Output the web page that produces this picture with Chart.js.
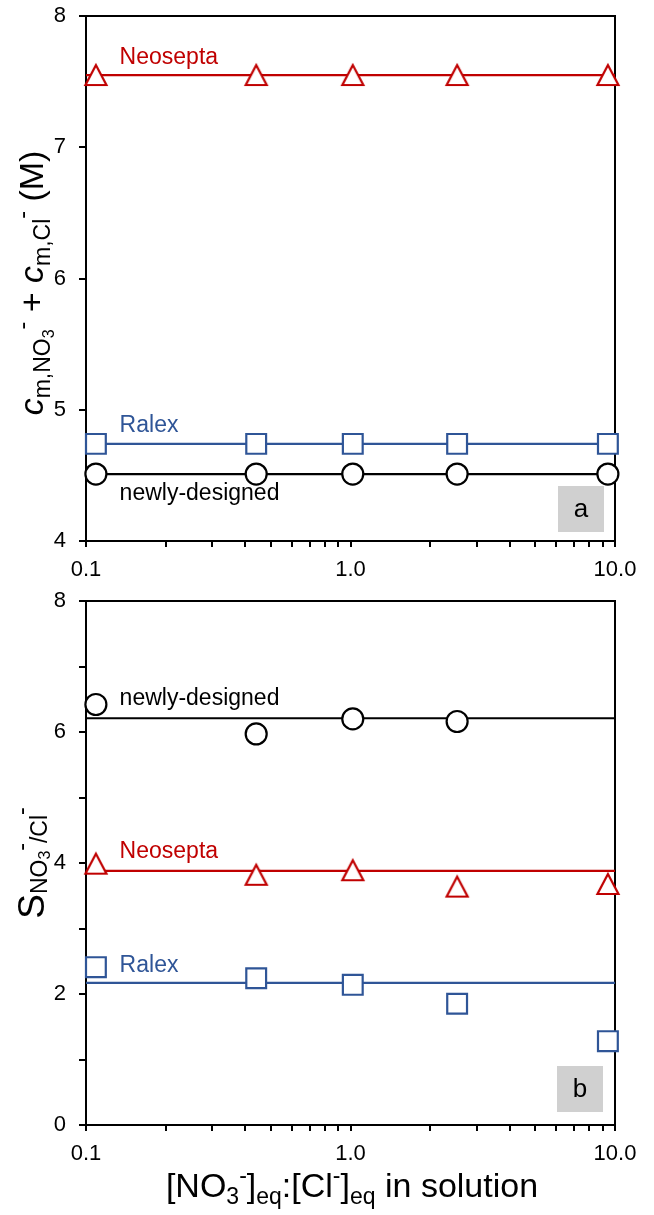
<!DOCTYPE html>
<html>
<head>
<meta charset="utf-8">
<script src="https://cdn.jsdelivr.net/npm/chart.js@4.4.1/dist/chart.umd.min.js"></script>
<style>
html,body{margin:0;padding:0;background:#fff;}
#wrap{position:relative;width:654px;height:1215px;overflow:hidden;background:#fff;}
canvas{position:absolute;left:0;}
</style>
</head>
<body>
<div id="wrap">
<canvas id="ca" width="654" height="610" style="top:-10px"></canvas>
<canvas id="cb" width="654" height="640" style="top:575px"></canvas>
</div>
<script>
// ---------- data ----------
const xRatio = [0.109, 0.44, 1.02, 2.53, 9.4];            // [NO3-]eq:[Cl-]eq in solution
const xRange = [0.1, 10];
const xTickValues = [0.1,0.2,0.3,0.4,0.5,0.6,0.7,0.8,0.9,1,2,3,4,5,6,7,8,9,10];
const xTickLabels = {'0.1':'0.1','1':'1.0','10':'10.0'};

// panel a : c_m,NO3- + c_m,Cl- (M)
const concNeosepta = [7.55, 7.55, 7.55, 7.55, 7.55];
const concRalex    = [4.74, 4.74, 4.74, 4.74, 4.74];
const concNewly    = [4.51, 4.51, 4.51, 4.51, 4.51];
const concFitNeosepta = 7.55, concFitRalex = 4.74, concFitNewly = 4.51;
const yTicksA = [4, 5, 6, 7, 8];

// panel b : selectivity S NO3-/Cl-
const selNewly    = [6.42, 5.97, 6.20, 6.16];
const selNeosepta = [3.99, 3.82, 3.89, 3.64, 3.68];
const selRalex    = [2.41, 2.24, 2.14, 1.85, 1.28];
const selFitNewly = 6.21, selFitNeosepta = 3.88, selFitRalex = 2.17;
const yTicksB = [0, 1, 2, 3, 4, 5, 6, 7, 8];
const yLabelsB = [0, 2, 4, 6, 8];

const RED = '#C00000', BLUE = '#2F5597', BLACK = '#000000';
const FAMILY = '"Liberation Sans", Arial, sans-serif';

Chart.defaults.font.family = FAMILY;
Chart.defaults.color = '#000';

// ---------- marker helpers ----------
function triangleMarker(color) {
  const c = document.createElement('canvas');
  c.width = 28; c.height = 26;
  const g = c.getContext('2d');
  g.lineWidth = 2.2; g.strokeStyle = color; g.fillStyle = '#fff'; g.lineJoin = 'miter';
  g.beginPath(); g.moveTo(14, 3); g.lineTo(3.5, 23); g.lineTo(24.5, 23); g.closePath();
  g.fill(); g.stroke();
  return c;
}
function pts(xs, ys) { return ys.map((y, i) => ({x: xs[i], y})); }
function fit(v) { return [{x: xRange[0], y: v}, {x: xRange[1], y: v}]; }
function markerSet(data, style, color, radius) {
  return {data, showLine: false, pointStyle: style, pointRadius: radius, pointHoverRadius: radius,
    pointBorderColor: color, pointBackgroundColor: '#fff', pointBorderWidth: 2.2,
    borderColor: color, backgroundColor: '#fff', clip: false, order: 1};
}
function lineSet(data, color) {
  return {data, showLine: true, pointRadius: 0, borderColor: color, borderWidth: 2.2,
    backgroundColor: color, clip: false, order: 2};
}

// ---------- rich text ----------
function drawRich(ctx, segs, x, y, rotate) {
  ctx.save();
  ctx.translate(x, y);
  if (rotate) ctx.rotate(-Math.PI / 2);
  let total = 0;
  segs.forEach(s => {
    ctx.font = (s.italic ? 'italic ' : '') + s.size + 'px ' + FAMILY;
    s.w = ctx.measureText(s.t).width;
    total += s.w + (s.dx || 0);
  });
  let cx = -total / 2;
  ctx.textAlign = 'left'; ctx.textBaseline = 'alphabetic'; ctx.fillStyle = '#000';
  segs.forEach(s => {
    ctx.font = (s.italic ? 'italic ' : '') + s.size + 'px ' + FAMILY;
    cx += (s.dx || 0);
    ctx.fillText(s.t, cx, s.dy || 0);
    cx += s.w;
  });
  ctx.restore();
}

// ---------- plugins ----------
const framePlugin = {
  id: 'frame',
  beforeDatasetsDraw(chart) {
    const {ctx, chartArea: a} = chart;
    ctx.save(); ctx.strokeStyle = '#000'; ctx.lineWidth = 2;
    ctx.strokeRect(Math.round(a.left), Math.round(a.top),
      Math.round(a.right) - Math.round(a.left), Math.round(a.bottom) - Math.round(a.top));
    ctx.restore();
  }
};
const notesPlugin = {
  id: 'notes',
  afterDatasetsDraw(chart, args, opts) {
    const {ctx, chartArea: a, scales} = chart;
    ctx.save();
    ctx.textAlign = 'left'; ctx.textBaseline = 'middle';
    ctx.font = '23px ' + FAMILY;
    (opts.labels || []).forEach(l => {
      ctx.fillStyle = l.color;
      ctx.fillText(l.text, scales.x.getPixelForValue(l.x), scales.y.getPixelForValue(l.y));
    });
    if (opts.box) {
      const b = opts.box;
      const bx = Math.round(a.right) - b.right - b.size, by = Math.round(a.bottom) - b.bottom - b.size;
      ctx.fillStyle = '#D0D0D0';
      ctx.fillRect(bx, by, b.size, b.size);
      ctx.fillStyle = '#000'; ctx.textAlign = 'center'; ctx.font = '26px ' + FAMILY;
      ctx.fillText(b.text, bx + b.size / 2, by + b.size / 2 + 1);
    }
    ctx.restore();
  },
  afterDraw(chart, args, opts) {
    (opts.titles || []).forEach(t => drawRich(chart.ctx, t.segs, t.x, t.y, t.rotate));
  }
};

const TICK_FONT = {size: 22, lineHeight: '26px'};
function xScale(height) {
  return {
    type: 'logarithmic', position: 'bottom', min: xRange[0], max: xRange[1],
    afterBuildTicks: s => { s.ticks = xTickValues.map(v => ({value: v})); },
    ticks: {autoSkip: false, maxRotation: 0, minRotation: 0, padding: 10, color: '#000',
      font: TICK_FONT, callback: v => xTickLabels[String(v)] ?? ''},
    grid: {drawOnChartArea: false, drawTicks: true, tickLength: 6, color: '#000', lineWidth: 2},
    border: {display: false},
    afterFit: s => { s.height = height; }
  };
}
function yScale(min, max, tickVals, labelVals) {
  return {
    type: 'linear', min, max,
    afterBuildTicks: s => { s.ticks = tickVals.map(v => ({value: v})); },
    ticks: {padding: 13, color: '#000', font: TICK_FONT,
      callback: v => labelVals.includes(v) ? String(v) : ''},
    grid: {drawOnChartArea: false, drawTicks: true, tickLength: 7, color: '#000', lineWidth: 2},
    border: {display: false},
    afterFit: s => { s.width = 86; }
  };
}

const common = {
  responsive: false, animation: false, events: [], devicePixelRatio: 1,
  plugins: {legend: {display: false}, tooltip: {enabled: false}}
};

// ---------- panel a ----------
new Chart(document.getElementById('ca'), {
  type: 'scatter',
  data: {datasets: [
    markerSet(pts(xRatio, concNeosepta), triangleMarker(RED), RED, 11),
    markerSet(pts(xRatio, concRalex), 'rect', BLUE, 14),
    markerSet(pts(xRatio, concNewly), 'circle', BLACK, 10.5),
    lineSet(fit(concFitNeosepta), RED),
    lineSet(fit(concFitRalex), BLUE),
    lineSet(fit(concFitNewly), BLACK)
  ]},
  options: Object.assign({}, common, {
    layout: {padding: {left: 0, top: 0, right: 39, bottom: 0}},
    scales: {x: xScale(59), y: yScale(4, 8, yTicksA, yTicksA)},
    plugins: Object.assign({}, common.plugins, {
      notes: {
        labels: [
          {text: 'Neosepta', color: RED, x: 0.134, y: 7.68},
          {text: 'Ralex', color: BLUE, x: 0.134, y: 4.88},
          {text: 'newly-designed', color: BLACK, x: 0.134, y: 4.36}
        ],
        box: {text: 'a', size: 46, right: 11, bottom: 9},
        titles: [{rotate: true, x: 43, y: 293, segs: [
          {t: 'c', size: 34, italic: true},
          {t: 'm,NO', size: 23, dy: 7},
          {t: '3', size: 16, dy: 11},
          {t: '-', size: 23, dy: -13},
          {t: ' + ', size: 34},
          {t: 'c', size: 34, italic: true},
          {t: 'm,Cl', size: 23, dy: 7},
          {t: '-', size: 23, dy: -13},
          {t: ' (M)', size: 34}
        ]}]
      }
    })
  }),
  plugins: [framePlugin, notesPlugin]
});

// ---------- panel b ----------
new Chart(document.getElementById('cb'), {
  type: 'scatter',
  data: {datasets: [
    markerSet(pts(xRatio, selNeosepta), triangleMarker(RED), RED, 11),
    markerSet(pts(xRatio, selRalex), 'rect', BLUE, 14),
    markerSet(pts(xRatio, selNewly), 'circle', BLACK, 10.5),
    lineSet(fit(selFitNeosepta), RED),
    lineSet(fit(selFitRalex), BLUE),
    lineSet(fit(selFitNewly), BLACK)
  ]},
  options: Object.assign({}, common, {
    layout: {padding: {left: 0, top: 0, right: 39, bottom: 0}},
    scales: {x: xScale(90), y: yScale(0, 8, yTicksB, yLabelsB)},
    plugins: Object.assign({}, common.plugins, {
      notes: {
        labels: [
          {text: 'newly-designed', color: BLACK, x: 0.134, y: 6.51},
          {text: 'Neosepta', color: RED, x: 0.134, y: 4.17},
          {text: 'Ralex', color: BLUE, x: 0.134, y: 2.44}
        ],
        box: {text: 'b', size: 46, right: 12, bottom: 13},
        titles: [
          {rotate: true, x: 44, y: 288, segs: [
            {t: 'S', size: 37},
            {t: 'NO', size: 23, dy: 3},
            {t: '3', size: 16, dy: 6},
            {t: '-', size: 23, dy: -15},
            {t: '/Cl', size: 23, dy: 3},
            {t: '-', size: 23, dy: -15}
          ]},
          {rotate: false, x: 352, y: 622, segs: [
            {t: '[NO', size: 34},
            {t: '3', size: 23, dy: 7},
            {t: '-', size: 23, dy: -14},
            {t: ']', size: 34},
            {t: 'eq', size: 23, dy: 7},
            {t: ':[Cl', size: 34},
            {t: '-', size: 23, dy: -14},
            {t: ']', size: 34},
            {t: 'eq', size: 23, dy: 7},
            {t: ' in solution', size: 34}
          ]}
        ]
      }
    })
  }),
  plugins: [framePlugin, notesPlugin]
});
</script>
</body>
</html>
